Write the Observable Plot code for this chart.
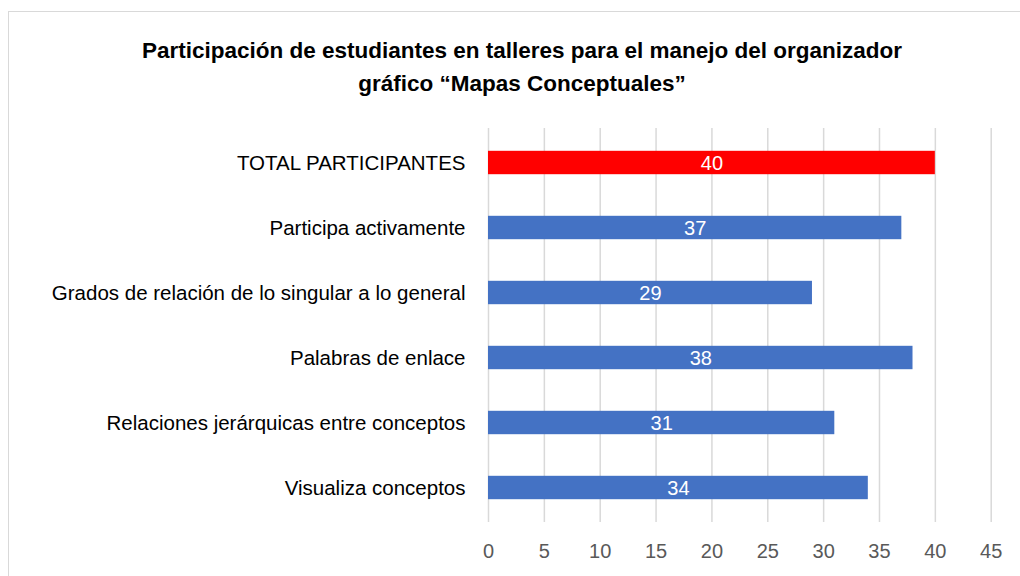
<!DOCTYPE html>
<html>
<head>
<meta charset="utf-8">
<script src="https://cdn.jsdelivr.net/npm/d3@7"></script>
<script src="https://cdn.jsdelivr.net/npm/@observablehq/plot@0.6"></script>
<style>
  html, body { margin: 0; padding: 0; background: #fff; width: 1020px; height: 576px; overflow: hidden; }
  #frame { position: absolute; left: 8px; top: 11px; width: 1030px; height: 600px; border: 1px solid #d9d9d9; box-sizing: border-box; }
  #title { position: absolute; left: 0; top: 34px; width: 1044px; text-align: center; font-family: "Liberation Sans", Arial, sans-serif; font-weight: bold; font-size: 22.5px; line-height: 33px; color: #000; }
  #chart { position: absolute; left: 0; top: 100px; }
</style>
</head>
<body>
<div id="frame"></div>
<div id="title">Participación de estudiantes en talleres para el manejo del organizador<br>gráfico “Mapas Conceptuales”</div>
<div id="chart"></div>
<script>
const categories = [
  "TOTAL PARTICIPANTES",
  "Participa activamente",
  "Grados de relación de lo singular a lo general",
  "Palabras de enlace",
  "Relaciones jerárquicas entre conceptos",
  "Visualiza conceptos"
];
const values = [40, 37, 29, 38, 31, 34];
const barColors = ["#FF0000", "#4472C4", "#4472C4", "#4472C4", "#4472C4", "#4472C4"];
const xTicks = [0, 5, 10, 15, 20, 25, 30, 35, 40, 45];

const data = categories.map((c, i) => ({category: c, value: values[i], color: barColors[i]}));
const font = "Liberation Sans, Arial, sans-serif";

const plot = Plot.plot({
  width: 1020,
  height: 476,
  marginLeft: 488,
  marginRight: 29.3,
  marginTop: 28,
  marginBottom: 54,
  style: {fontFamily: font, fontSize: "20px", background: "transparent", overflow: "visible"},
  x: {domain: [0, 45], ticks: xTicks},
  y: {domain: categories, padding: 0},
  marks: [
    Plot.gridX(xTicks, {stroke: "#d9d9d9", strokeOpacity: 1, strokeWidth: 1.5}),
    Plot.barX(data, {x: "value", y: "category", fill: "color", insetTop: 20.8, insetBottom: 20.8}),
    Plot.text(data, {x: d => d.value / 2, y: "category", text: d => String(d.value), fill: "white", fontSize: 20, dy: 1}),
    Plot.axisX({ticks: xTicks, tickSize: 0, tickPadding: 21, fontSize: 20, color: "#595959", label: null}),
    Plot.axisY({tickSize: 0, tickPadding: 23, fontSize: 20.5, color: "#000", label: null})
  ]
});
document.getElementById("chart").appendChild(plot);
</script>
</body>
</html>
